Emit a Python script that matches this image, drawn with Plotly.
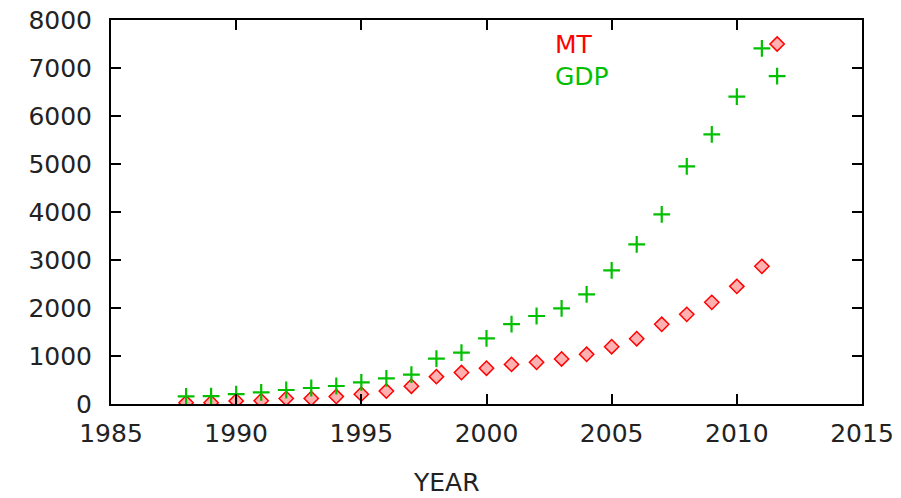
import plotly.graph_objects as go

years = list(range(1988, 2012))
mt = [25, 27, 65, 69, 115, 115, 155, 205, 270, 370, 570, 655, 745, 825,
      868, 938, 1035, 1194, 1361, 1660, 1868, 2118, 2451, 2868]
gdp = [160, 165, 205, 243, 292, 333, 375, 451, 535, 611, 944, 1069, 1368, 1663,
       1833, 1993, 2285, 2785, 3326, 3951, 4951, 5618, 6403, 7410]
series_names = ["MT", "GDP"]
x_ticks = [1985, 1990, 1995, 2000, 2005, 2010, 2015]
y_ticks = [0, 1000, 2000, 3000, 4000, 5000, 6000, 7000, 8000]

RED = "#ff0000"
GREEN = "#00c000"
FONT = "DejaVu Sans"
FS = 25

fig = go.Figure()
fig.add_trace(go.Scatter(
    x=years, y=mt, mode="markers", name=series_names[0], showlegend=False,
    marker=dict(symbol="diamond", size=11, color="#ffb0b0",
                line=dict(color=RED, width=1.5))))
fig.add_trace(go.Scatter(
    x=years, y=gdp, mode="markers", name=series_names[1], showlegend=False,
    marker=dict(symbol="cross-thin", size=12,
                line=dict(color=GREEN, width=2.2))))

# key samples drawn on an overlay axis spanning the plot area
key_x = 0.887
key_y = [0.9375, 0.854]
fig.add_trace(go.Scatter(
    x=[key_x], y=[key_y[0]], xaxis="x2", yaxis="y2", mode="markers",
    showlegend=False, hoverinfo="skip",
    marker=dict(symbol="diamond", size=11, color="#ffb0b0",
                line=dict(color=RED, width=1.5))))
fig.add_trace(go.Scatter(
    x=[key_x], y=[key_y[1]], xaxis="x2", yaxis="y2", mode="markers",
    showlegend=False, hoverinfo="skip",
    marker=dict(symbol="cross-thin", size=12, line=dict(color=GREEN, width=2.2))))

axis_common = dict(showline=True, linecolor="black", linewidth=2, mirror="allticks",
                   ticks="inside", ticklen=10, tickwidth=2, tickcolor="black",
                   showgrid=False, zeroline=False, automargin=False,
                   tickfont=dict(family=FONT, size=FS, color="#222222"))

fig.update_layout(
    width=901, height=498,
    margin=dict(l=111, r=39, t=20, b=94, autoexpand=False),
    paper_bgcolor="white", plot_bgcolor="white",
    xaxis=dict(range=[1985, 2015], tickvals=x_ticks,
               ticktext=[str(t) for t in x_ticks], ticklabelstandoff=6, **axis_common),
    yaxis=dict(range=[0, 8000], tickvals=y_ticks,
               ticktext=[str(t) for t in y_ticks], ticklabelstandoff=12, **axis_common),
    xaxis2=dict(range=[0, 1], overlaying="x", visible=False, fixedrange=True),
    yaxis2=dict(range=[0, 1], overlaying="y", visible=False, fixedrange=True),
    annotations=[
        dict(text=series_names[0], xref="paper", yref="paper", x=0.5886, y=key_y[0],
             xanchor="left", yanchor="middle", showarrow=False,
             font=dict(family=FONT, size=FS, color=RED)),
        dict(text=series_names[1], xref="paper", yref="paper", x=0.5886, y=key_y[1],
             xanchor="left", yanchor="middle", showarrow=False,
             font=dict(family=FONT, size=FS, color=GREEN)),
        dict(text="YEAR", xref="paper", yref="paper", x=(446 - 111) / 751, y=-78 / 384,
             xanchor="center", yanchor="middle", showarrow=False, borderpad=0,
             font=dict(family=FONT, size=FS, color="#222222")),
    ],
)

fig.write_html("out.html", config={"displayModeBar": False},
               post_script="document.body.style.margin='0';")
